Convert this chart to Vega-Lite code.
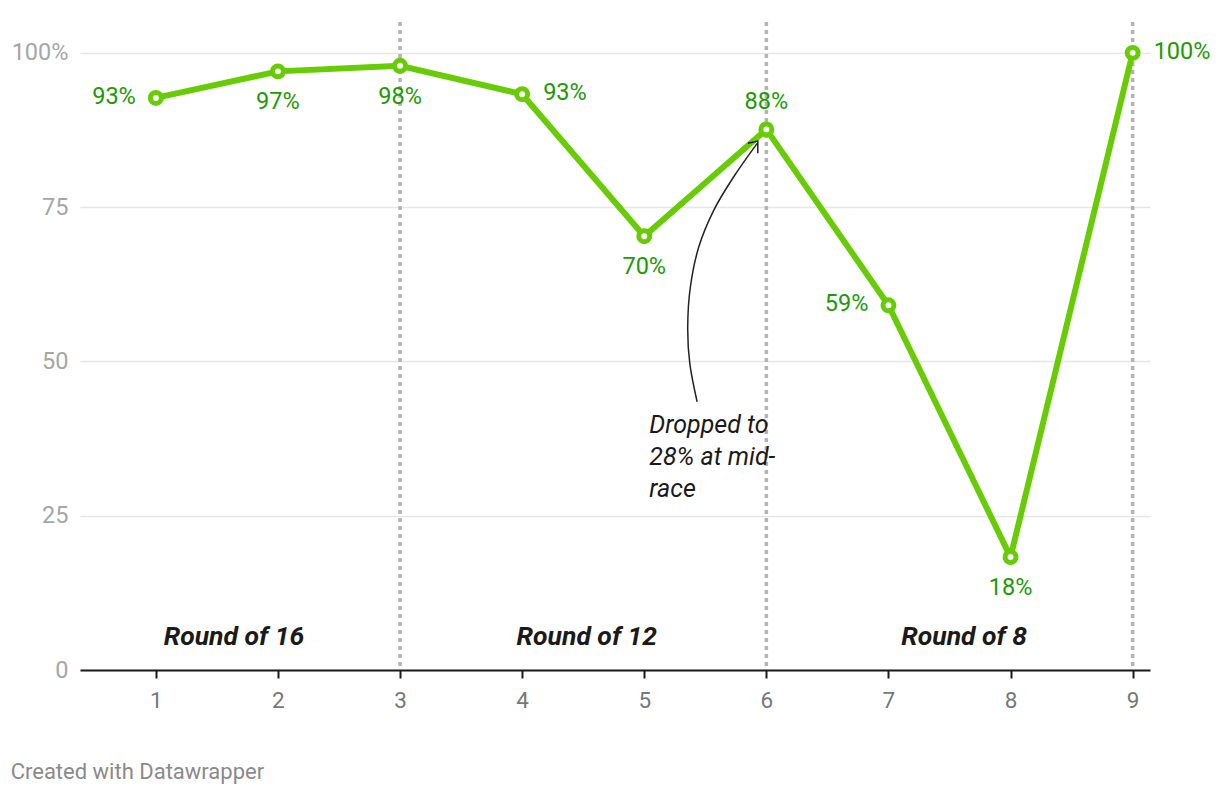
{
  "$schema": "https://vega.github.io/schema/vega-lite/v6.json",
  "width": 1070,
  "height": 648,
  "autosize": {"type": "none"},
  "padding": {"left": 80, "top": 22, "right": 70, "bottom": 126},
  "background": "white",
  "config": {"view": {"stroke": null}, "font": "Roboto", "text": {"font": "Roboto"}},
  "datasets": {
    "main": [
      {"x": 1, "v": 0.927},
      {"x": 2, "v": 0.970},
      {"x": 3, "v": 0.979},
      {"x": 4, "v": 0.933},
      {"x": 5, "v": 0.703},
      {"x": 6, "v": 0.876},
      {"x": 7, "v": 0.591},
      {"x": 8, "v": 0.183},
      {"x": 9, "v": 1.0}
    ],
    "dividers": [{"x": 3}, {"x": 6}, {"x": 9}],
    "rounds": [
      {"x": 1.64, "v": 0.0535, "label": "Round of 16"},
      {"x": 4.53, "v": 0.0535, "label": "Round of 12"},
      {"x": 7.62, "v": 0.0535, "label": "Round of 8"}
    ],
    "curve": [
      {"i": 1, "x": 5.433, "v": 0.4347},
      {"i": 2, "x": 5.373, "v": 0.4969},
      {"i": 3, "x": 5.356, "v": 0.5562},
      {"i": 4, "x": 5.378, "v": 0.6210},
      {"i": 5, "x": 5.447, "v": 0.6858},
      {"i": 6, "x": 5.570, "v": 0.7453},
      {"i": 7, "x": 5.733, "v": 0.7993},
      {"i": 8, "x": 5.925, "v": 0.8534}
    ],
    "head": [
      {"i": 1, "x": 5.849, "v": 0.8534},
      {"i": 2, "x": 5.930, "v": 0.857},
      {"i": 3, "x": 5.930, "v": 0.8372}
    ],
    "note": [{"x": 5.042, "v": 0.384, "label": "Dropped to\n28% at mid-\nrace"}],
    "footer": [{"x": -0.189, "v": -0.165, "label": "Created with Datawrapper"}]
  },
  "layer": [
    {
      "data": {"name": "dividers"},
      "mark": {"type": "rule", "color": "#b3b3b3", "strokeWidth": 3.5, "strokeDash": [4, 4]},
      "encoding": {
        "x": {
          "field": "x", "type": "quantitative",
          "scale": {"domain": [0.379, 9.142], "nice": false, "zero": false},
          "axis": {
            "values": [1, 2, 3, 4, 5, 6, 7, 8, 9], "format": "d", "title": null, "grid": false,
            "domainColor": "#1a1a1a", "domainWidth": 2, "tickColor": "#1a1a1a", "tickWidth": 2, "tickSize": 8,
            "labelColor": "#777777", "labelFontSize": 22.5, "labelPadding": 11, "labelFont": "Roboto"
          }
        }
      }
    },
    {
      "data": {"name": "main"},
      "mark": {"type": "line", "color": "#68cc04", "strokeWidth": 6},
      "encoding": {
        "x": {"field": "x", "type": "quantitative"},
        "y": {
          "field": "v", "type": "quantitative",
          "scale": {"domain": [0, 1.05], "nice": false},
          "axis": {
            "values": [0, 0.25, 0.5, 0.75, 1], "title": null, "domain": false, "ticks": false,
            "grid": true, "gridColor": "#e6e6e6", "gridWidth": 1.5,
            "labelExpr": "datum.value == 1 ? '100%' : format(datum.value * 100, 'd')",
            "labelColor": "#a6a6a6", "labelFontSize": 23.5, "labelPadding": 12, "labelFont": "Roboto"
          }
        }
      }
    },
    {
      "data": {"name": "curve"},
      "mark": {"type": "line", "color": "#222222", "strokeWidth": 1.5, "interpolate": "cardinal"},
      "encoding": {
        "x": {"field": "x", "type": "quantitative"},
        "y": {"field": "v", "type": "quantitative"},
        "order": {"field": "i"}
      }
    },
    {
      "data": {"name": "head"},
      "mark": {"type": "line", "color": "#222222", "strokeWidth": 1.5},
      "encoding": {
        "x": {"field": "x", "type": "quantitative"},
        "y": {"field": "v", "type": "quantitative"},
        "order": {"field": "i"}
      }
    },
    {
      "data": {"name": "main"},
      "mark": {"type": "point", "shape": "circle", "filled": true, "fill": "white", "stroke": "#68cc04", "strokeWidth": 5, "size": 120, "opacity": 1},
      "encoding": {
        "x": {"field": "x", "type": "quantitative"},
        "y": {"field": "v", "type": "quantitative"}
      }
    },
    {
      "data": {"name": "main"},
      "transform": [{"filter": "datum.x == 1 || datum.x == 7"}],
      "mark": {"type": "text", "align": "right", "baseline": "middle", "dx": -20, "dy": -1, "fontSize": 23.5, "color": "#1d9a04"},
      "encoding": {
        "x": {"field": "x", "type": "quantitative"},
        "y": {"field": "v", "type": "quantitative"},
        "text": {"field": "v", "type": "quantitative", "format": ".0%"}
      }
    },
    {
      "data": {"name": "main"},
      "transform": [{"filter": "datum.x == 4 || datum.x == 9"}],
      "mark": {"type": "text", "align": "left", "baseline": "middle", "dx": 21, "dy": -1, "fontSize": 23.5, "color": "#1d9a04"},
      "encoding": {
        "x": {"field": "x", "type": "quantitative"},
        "y": {"field": "v", "type": "quantitative"},
        "text": {"field": "v", "type": "quantitative", "format": ".0%"}
      }
    },
    {
      "data": {"name": "main"},
      "transform": [{"filter": "datum.x == 2 || datum.x == 3 || datum.x == 5 || datum.x == 8"}],
      "mark": {"type": "text", "align": "center", "baseline": "middle", "dy": 31, "fontSize": 23.5, "color": "#1d9a04"},
      "encoding": {
        "x": {"field": "x", "type": "quantitative"},
        "y": {"field": "v", "type": "quantitative"},
        "text": {"field": "v", "type": "quantitative", "format": ".0%"}
      }
    },
    {
      "data": {"name": "main"},
      "transform": [{"filter": "datum.x == 6"}],
      "mark": {"type": "text", "align": "center", "baseline": "middle", "dy": -27, "fontSize": 23.5, "color": "#1d9a04"},
      "encoding": {
        "x": {"field": "x", "type": "quantitative"},
        "y": {"field": "v", "type": "quantitative"},
        "text": {"field": "v", "type": "quantitative", "format": ".0%"}
      }
    },
    {
      "data": {"name": "rounds"},
      "mark": {"type": "text", "align": "center", "baseline": "middle", "fontSize": 26.5, "fontStyle": "italic", "fontWeight": "bold", "color": "#1a1a1a"},
      "encoding": {
        "x": {"field": "x", "type": "quantitative"},
        "y": {"field": "v", "type": "quantitative"},
        "text": {"field": "label"}
      }
    },
    {
      "data": {"name": "note"},
      "mark": {"type": "text", "align": "left", "baseline": "alphabetic", "fontSize": 25, "fontStyle": "italic", "color": "#1a1a1a", "lineBreak": "\n", "lineHeight": 32},
      "encoding": {
        "x": {"field": "x", "type": "quantitative"},
        "y": {"field": "v", "type": "quantitative"},
        "text": {"field": "label"}
      }
    },
    {
      "data": {"name": "footer"},
      "mark": {"type": "text", "align": "left", "baseline": "middle", "fontSize": 22, "color": "#8a8a8a"},
      "encoding": {
        "x": {"field": "x", "type": "quantitative"},
        "y": {"field": "v", "type": "quantitative"},
        "text": {"field": "label"}
      }
    }
  ]
}
